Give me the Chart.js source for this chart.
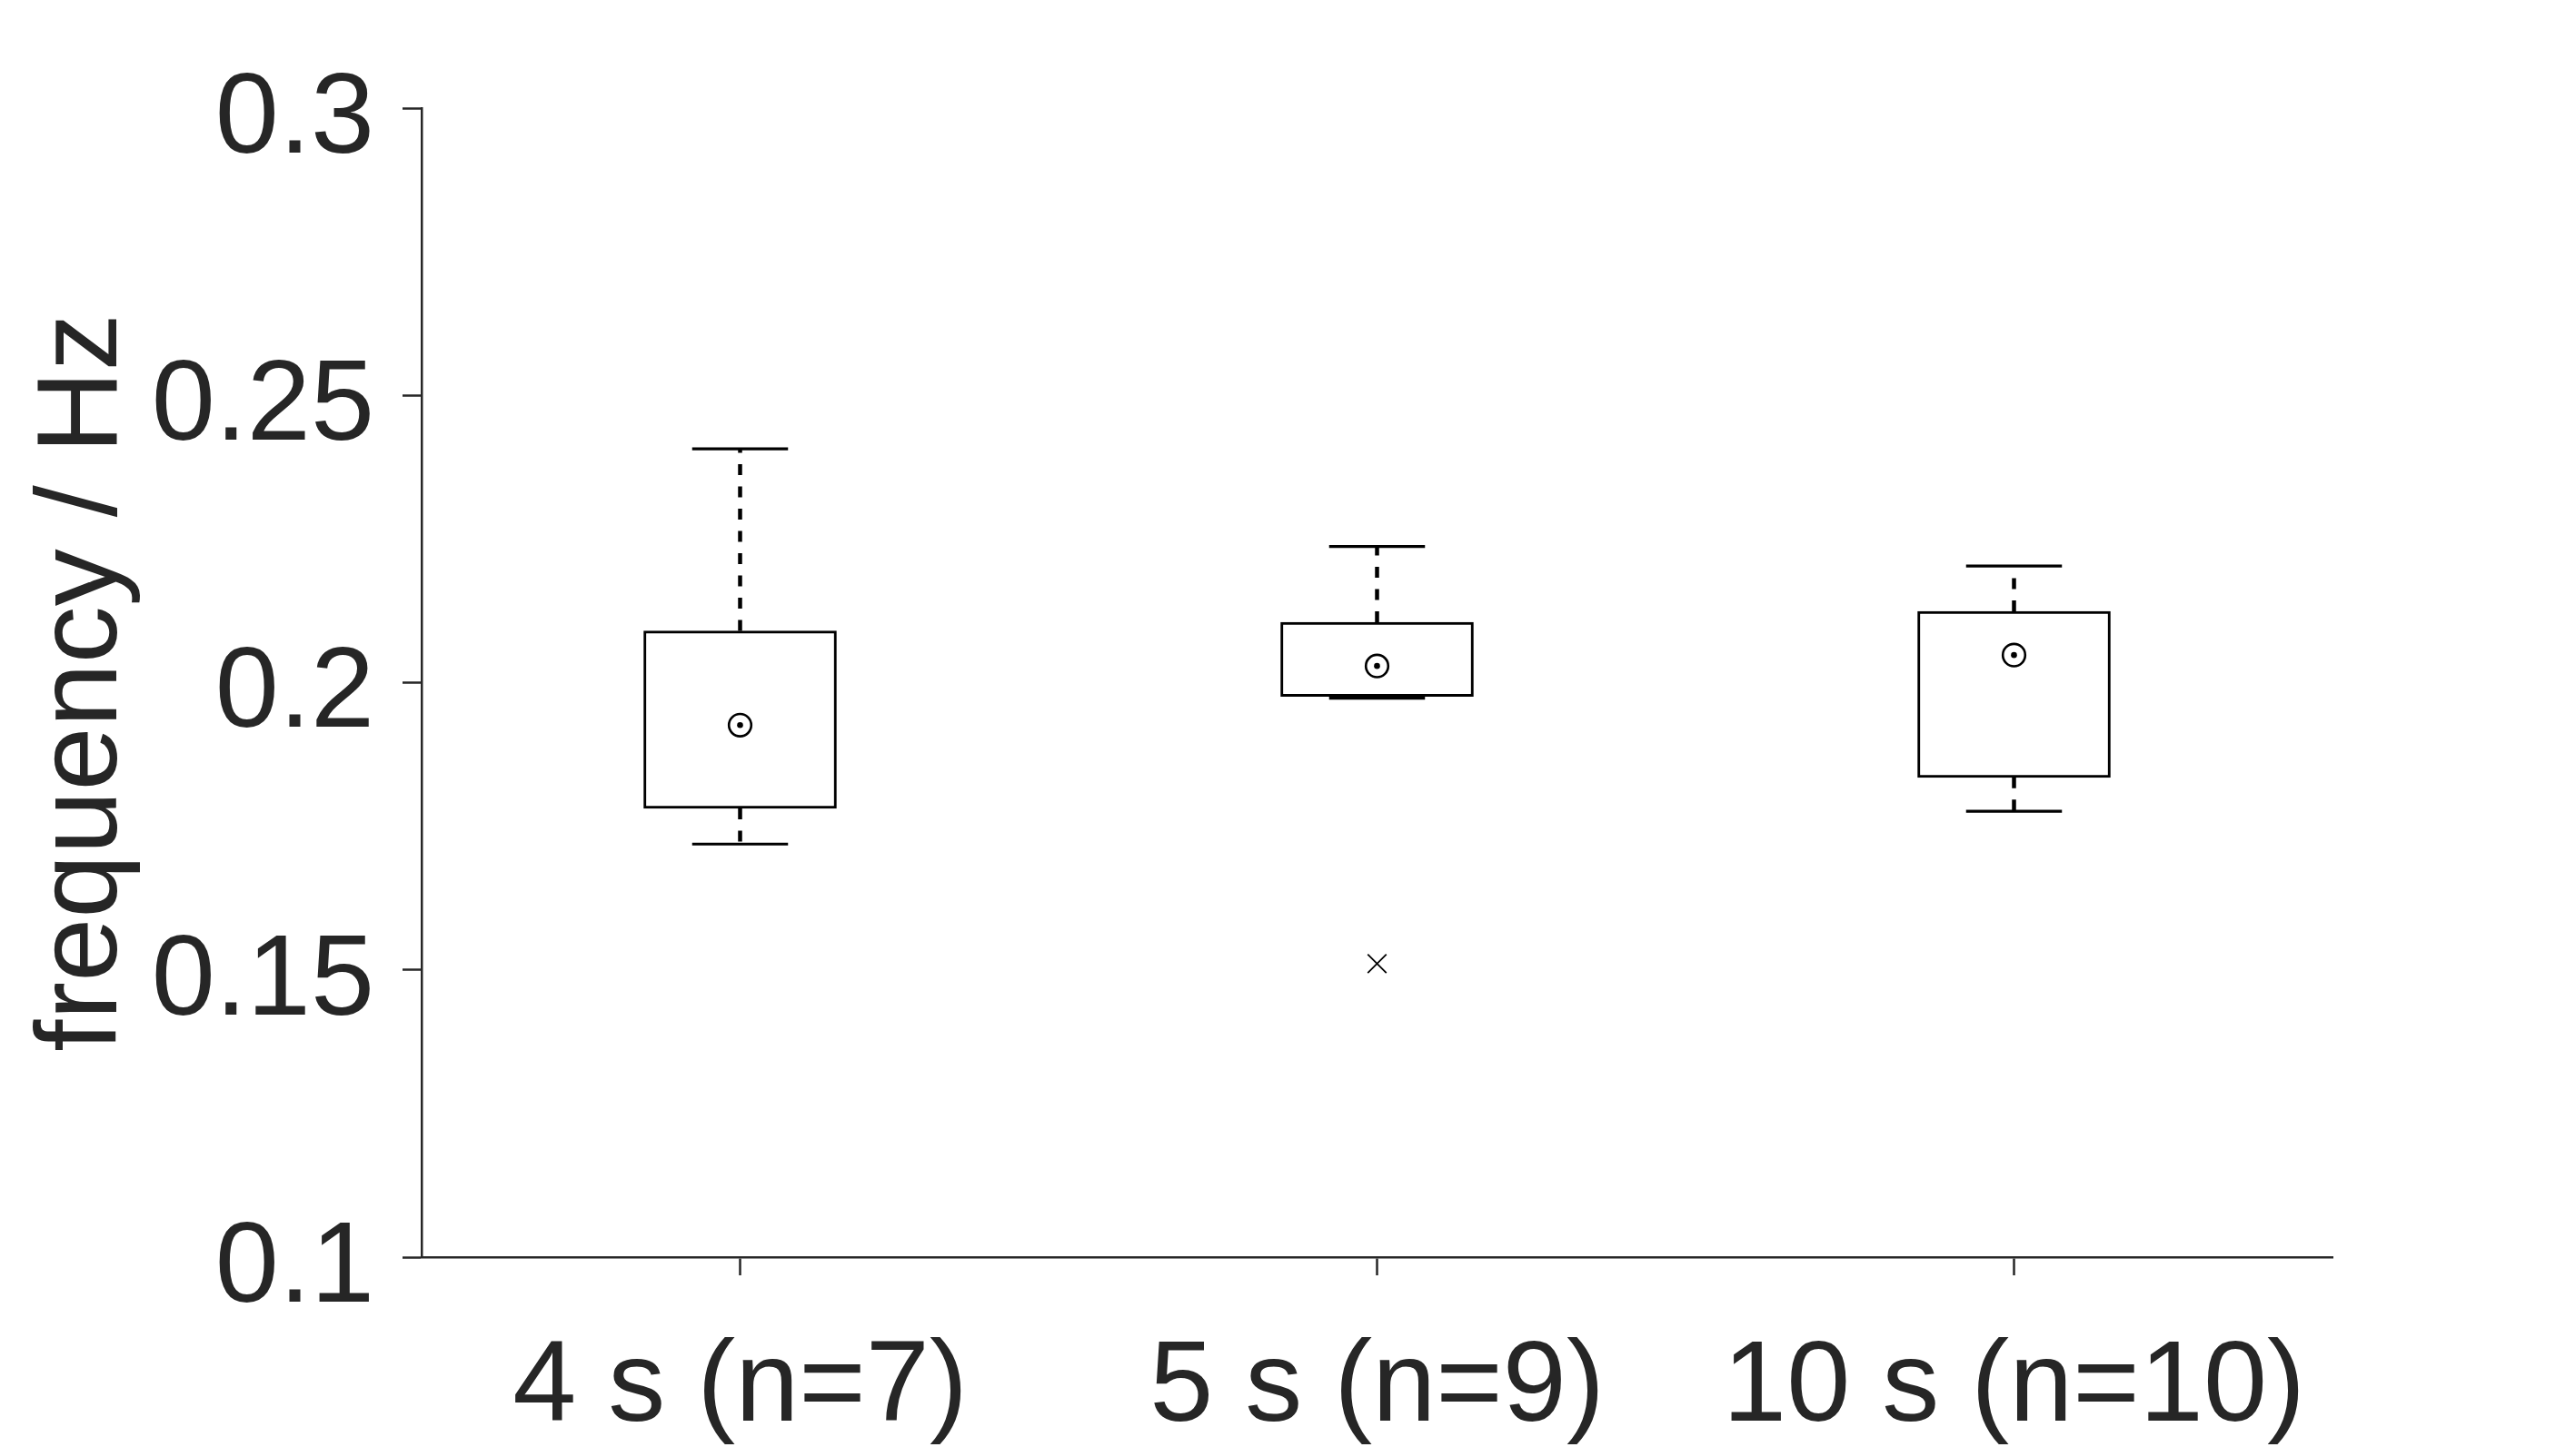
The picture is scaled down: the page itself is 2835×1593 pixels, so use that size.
<!DOCTYPE html>
<html>
<head>
<meta charset="utf-8">
<title>frequency / Hz box plot</title>
<script src="https://cdn.jsdelivr.net/npm/chart.js@4.4.1/dist/chart.umd.min.js"></script>
<style>
    html, body { margin: 0; padding: 0; background: #ffffff; }
    #wrap { width: 2835px; height: 1593px; }
</style>
</head>
<body>
<div id="wrap"><canvas id="boxChart"></canvas></div>
<script>
// ===============================
// Data
// ===============================
const categories = ["4 s (n=7)", "5 s (n=9)", "10 s (n=10)"];
const upperWhisker = [0.2407, 0.2237, 0.2203];
const upperQuartile = [0.2090, 0.2105, 0.2124];
const medians = [0.1926, 0.2029, 0.2048];
const lowerQuartile = [0.1781, 0.1976, 0.1835];
const lowerWhisker = [0.1719, 0.1973, 0.1776];
const outlierCategory = ["5 s (n=9)"];
const outlierValue = [0.1511];
const yTicks = [0.1, 0.15, 0.2, 0.25, 0.3];

const ink = "#262626";
const fontFamily = 'Arial, "Liberation Sans", Helvetica, sans-serif';

Chart.defaults.font.family = fontFamily;
Chart.defaults.color = ink;

// whiskers go out from the box edge; a null point breaks the line
function whiskerPoints() {
    const pts = [];
    categories.forEach((c, i) => {
        pts.push({ x: c, y: upperQuartile[i] }, { x: c, y: upperWhisker[i] }, { x: c, y: null });
        pts.push({ x: c, y: lowerQuartile[i] }, { x: c, y: lowerWhisker[i] }, { x: c, y: null });
    });
    return pts;
}

function capPoints() {
    const pts = [];
    categories.forEach((c, i) => {
        pts.push({ x: c, y: upperWhisker[i] }, { x: c, y: lowerWhisker[i] });
    });
    return pts;
}

const medianPoints = categories.map((c, i) => ({ x: c, y: medians[i] }));
const outlierPoints = outlierCategory.map((c, i) => ({ x: c, y: outlierValue[i] }));

new Chart(document.getElementById("boxChart"), {
    type: "bar",
    data: {
        labels: categories,
        datasets: [
            {
                // boxes: floating bars from Q1 to Q3
                type: "bar",
                data: categories.map((c, i) => [lowerQuartile[i], upperQuartile[i]]),
                backgroundColor: "#ffffff",
                borderColor: "#000000",
                borderWidth: 3,
                borderSkipped: false,
                barThickness: 212,
                order: 10
            },
            {
                type: "line",
                data: whiskerPoints(),
                borderColor: "#000000",
                borderWidth: 4.5,
                borderDash: [12, 12.5],
                pointRadius: 0,
                spanGaps: false,
                order: 5
            },
            {
                type: "line",
                data: capPoints(),
                showLine: false,
                pointStyle: "line",
                pointRadius: 52.75,
                pointBorderWidth: 3.2,
                pointBorderColor: "#000000",
                order: 4
            },
            {
                type: "line",
                data: medianPoints,
                showLine: false,
                pointStyle: "circle",
                pointRadius: 12.3,
                pointBorderWidth: 2.6,
                pointBorderColor: "#000000",
                pointBackgroundColor: "#ffffff",
                order: 1
            },
            {
                type: "line",
                data: medianPoints,
                showLine: false,
                pointStyle: "circle",
                pointRadius: 3.3,
                pointBorderWidth: 0,
                pointBackgroundColor: "#000000",
                order: 0
            },
            {
                type: "line",
                data: outlierPoints,
                showLine: false,
                pointStyle: "crossRot",
                pointRadius: 14.5,
                pointBorderWidth: 1.8,
                pointBorderColor: "#000000",
                order: 0
            }
        ]
    },
    options: {
        responsive: true,
        maintainAspectRatio: false,
        animation: false,
        events: [],
        layout: { padding: { top: 119, right: 268, bottom: 0, left: 0 } },
        plugins: {
            legend: { display: false },
            tooltip: { enabled: false }
        },
        scales: {
            x: {
                type: "category",
                offset: true,
                grid: {
                    offset: false,
                    drawOnChartArea: false,
                    drawTicks: true,
                    tickLength: 20,
                    tickWidth: 2.5,
                    tickColor: ink
                },
                border: { display: true, color: ink, width: 2.5 },
                ticks: {
                    color: ink,
                    font: { size: 126, lineHeight: 1.2 },
                    padding: 50,
                    maxRotation: 0,
                    autoSkip: false
                },
                afterFit: scale => { scale.height = 209; }
            },
            y: {
                min: 0.1,
                max: 0.3,
                afterBuildTicks: scale => {
                    scale.ticks = yTicks.map(v => ({ value: v }));
                },
                grid: {
                    drawOnChartArea: false,
                    drawTicks: true,
                    tickLength: 21,
                    tickWidth: 2.5,
                    tickColor: ink
                },
                border: { display: true, color: ink, width: 2.5 },
                ticks: {
                    color: ink,
                    font: { size: 126, lineHeight: 1.2 },
                    padding: 31,
                    labelOffset: 14,
                    callback: v => String(Number(v.toFixed(2)))
                },
                title: {
                    display: true,
                    text: "frequency / Hz",
                    color: ink,
                    font: { size: 126, lineHeight: 1.2 },
                    padding: { top: 18, bottom: 0 }
                },
                afterFit: scale => { scale.width = 464; }
            }
        }
    }
});
</script>
</body>
</html>
